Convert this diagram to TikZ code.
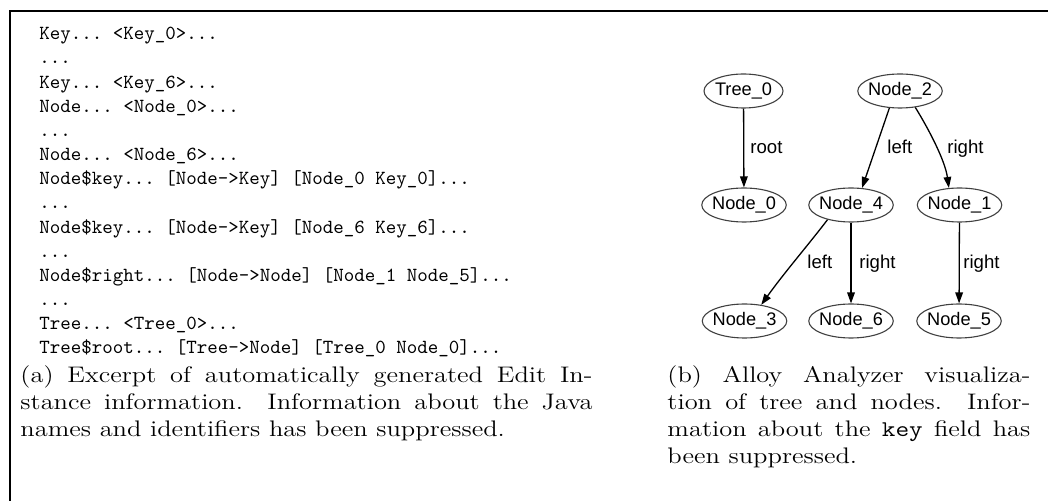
\documentclass[tikz,border=0pt]{standalone}
\usepackage{fontspec}
\newfontfamily\graphfont{Liberation Sans}
\usetikzlibrary{arrows.meta,shapes.geometric}

\begin{document}
\begin{tikzpicture}[x=0.5pt,y=-0.5pt,
  frameline/.style={line width=1pt,line cap=rect},
  listingtext/.style={anchor=north west,inner sep=0pt,align=left,
    font=\ttfamily\fontsize{10}{12.08}\selectfont\frenchspacing},
  capt/.style={anchor=north west,inner sep=0pt,align=justify,xscale=1.176,
    font=\fontsize{11.25}{13.5}\selectfont},
  inst/.style={ellipse,draw=black!75,line width=0.55pt,inner sep=-1pt,
    minimum width=42pt,minimum height=17pt,
    font=\graphfont\fontsize{9.1}{10}\selectfont},
  rel/.style={draw=black,line width=0.65pt,
    -{Triangle[length=5.5pt,width=3.8pt]}},
  rellabel/.style={anchor=base west,inner sep=0pt,
    font=\graphfont\fontsize{9.3}{10}\selectfont}
]
\useasboundingbox (0,0) rectangle (1048,501);

% enclosing frame (open to the right and bottom)
\draw[frameline] (10,501) -- (10,11) -- (1048,11);

% (a) excerpt of the generated instance listing
\node[listingtext] (listing) at (39,27) {%
Key... <Key\_0>...\\
...\\
Key... <Key\_6>...\\
Node... <Node\_0>...\\
...\\
Node... <Node\_6>...\\
Node\$key... [Node->Key] [Node\_0 Key\_0]...\\
...\\
Node\$key... [Node->Key] [Node\_6 Key\_6]...\\
...\\
Node\$right... [Node->Node] [Node\_1 Node\_5]...\\
...\\
Tree... <Tree\_0>...\\
Tree\$root... [Tree->Node] [Tree\_0 Node\_0]...};

\node[capt,text width=243.2pt] (capa) at (20,365) {(a) Excerpt of automatically generated Edit In-\linebreak
stance information. Information about the Java\linebreak
names and identifiers has been suppressed.};

% (b) tree visualisation
\node[inst,minimum width=39.5pt] (tree0) at (743.5,91) {Tree\_0};
\node[inst] (node2) at (900,91) {Node\_2};
\node[inst] (node0) at (744,205) {Node\_0};
\node[inst] (node4) at (851,205) {Node\_4};
\node[inst] (node1) at (959.5,205) {Node\_1};
\node[inst] (node3) at (744.5,321) {Node\_3};
\node[inst] (node6) at (851,321) {Node\_6};
\node[inst] (node5) at (959,321) {Node\_5};

\draw[rel] (tree0) -- (node0);
\draw[rel] (node2.238) -- (node4.57);
\draw[rel] (node2.313) .. controls (928,128) and (945,160) .. (node1.122);
\draw[rel] (node4.212) .. controls (809,244) and (784,273) .. (node3.44);
\draw[rel] (node4) -- (node6);
\draw[rel] (node1) -- (node5);

\node[rellabel] (lroot) at (750,154) {root};
\node[rellabel] (lleft) at (887,154) {left};
\node[rellabel] (lright) at (947,154) {right};
\node[rellabel] (lleftb) at (807,269) {left};
\node[rellabel] (lrightb) at (859,269) {right};
\node[rellabel] (lrightc) at (963,269) {right};

\node[capt,text width=154.3pt] (capb) at (667,365) {(b) Alloy Analyzer visualiza-\linebreak
tion of tree and nodes. Infor-\linebreak
mation about the \texttt{key} field has\linebreak
been suppressed.};
\end{tikzpicture}
\end{document}
